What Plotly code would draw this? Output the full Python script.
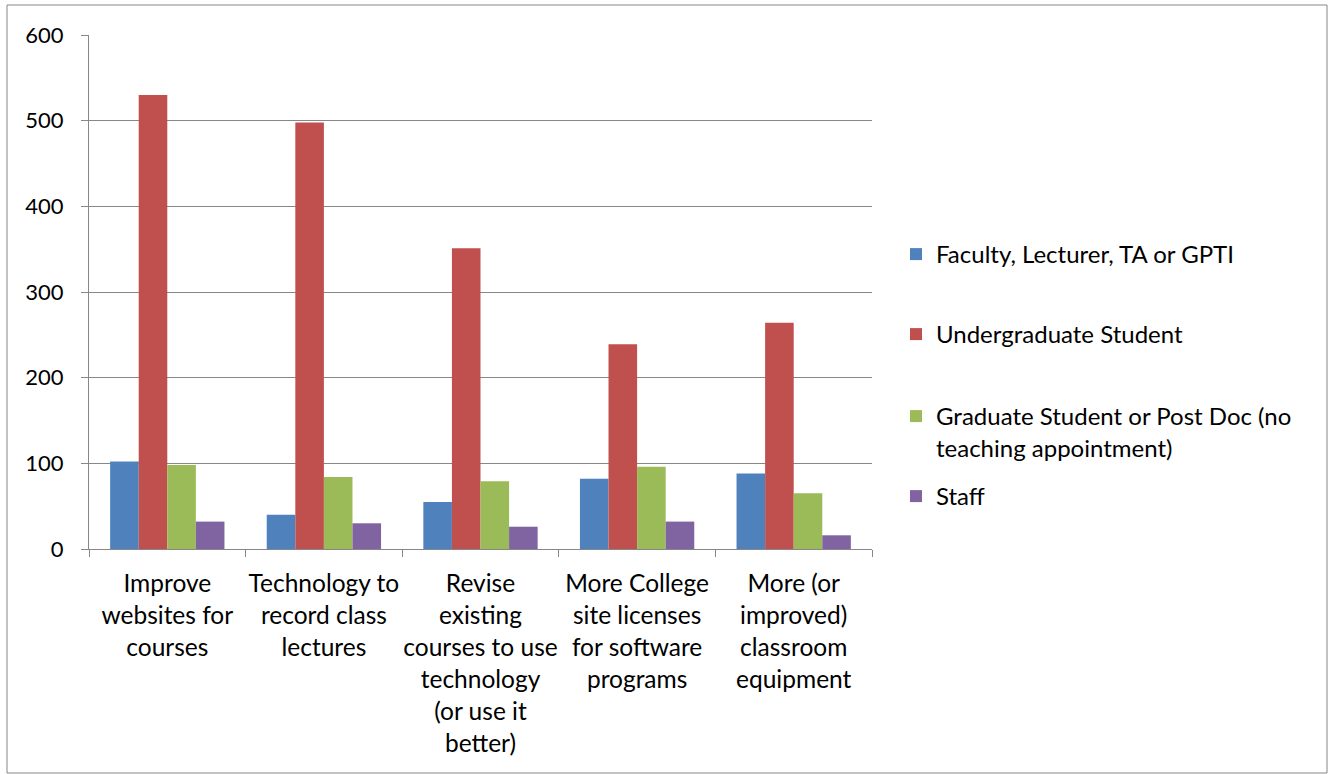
import plotly.graph_objects as go

categories = [
    "Improve<br>websites for<br>courses",
    "Technology to<br>record class<br>lectures",
    "Revise<br>existing<br>courses to use<br>technology<br>(or use it<br>better)",
    "More College<br>site licenses<br>for software<br>programs",
    "More (or<br>improved)<br>classroom<br>equipment",
]

faculty = [102, 40, 55, 82, 88]
undergrad = [530, 498, 351, 239, 264]
graduate = [98, 84, 79, 96, 65]
staff = [32, 30, 26, 32, 16]

series_names = [
    "Faculty, Lecturer, TA or GPTI",
    "Undergraduate Student",
    "Graduate Student or Post Doc (no<br>teaching appointment)",
    "Staff",
]
series_values = [faculty, undergrad, graduate, staff]
colors = ["#4F81BD", "#C0504D", "#9BBB59", "#8064A2"]

FONT = "Lato"
GRID = "#878787"

W, H = 1328, 774
L, R, T, B = 89, 456, 35, 225
pw, ph = W - L - R, H - T - B


def px_x(x):
    return (x - L) / pw


def px_y(y):
    return (H - B - y) / ph


legend_ids = ["legend", "legend2", "legend3", "legend4"]
legend_tops = [232, 312, 394, 474]

fig = go.Figure()
for name, vals, col, lid in zip(series_names, series_values, colors, legend_ids):
    fig.add_trace(go.Bar(
        x=categories, y=vals, name=name,
        marker=dict(color=col, line=dict(width=0)),
        legend=lid,
    ))

legend_layout = {}
for lid, top in zip(legend_ids, legend_tops):
    legend_layout[lid] = dict(
        x=px_x(896), y=px_y(top), xanchor="left", yanchor="top",
        font=dict(family=FONT, size=24, color="#000000"),
        valign="top", itemwidth=30,
        bgcolor="rgba(0,0,0,0)",
    )

fig.update_layout(
    width=W, height=H,
    margin=dict(l=L, r=R, t=T, b=B, pad=0, autoexpand=False),
    paper_bgcolor="white", plot_bgcolor="white",
    font=dict(family=FONT, size=22, color="#000000"),
    barmode="group", bargap=0.27, bargroupgap=0,
    showlegend=True,
    xaxis=dict(
        showline=True, linecolor=GRID, linewidth=1,
        ticks="outside", tickson="boundaries", ticklen=7, tickcolor=GRID,
        tickfont=dict(family=FONT, size=24.5, color="#000000"),
        tickangle=0, automargin=False,
        ticklabelstandoff=13,
        showgrid=False,
    ),
    yaxis=dict(
        range=[0, 600], dtick=100,
        showline=True, linecolor=GRID, linewidth=1,
        ticks="outside", ticklen=7, tickcolor=GRID,
        ticklabelstandoff=13, automargin=False,
        showgrid=True, gridcolor=GRID, gridwidth=1,
        zeroline=True, zerolinecolor=GRID, zerolinewidth=1,
        tickfont=dict(family=FONT, size=22, color="#000000"),
    ),
    shapes=[dict(
        type="rect", xref="paper", yref="paper",
        x0=px_x(7), x1=px_x(1327), y0=px_y(773), y1=px_y(5),
        line=dict(color="#868686", width=1), fillcolor="rgba(0,0,0,0)",
        layer="below",
    )],
    **legend_layout,
)

fig.write_html("out.html")
